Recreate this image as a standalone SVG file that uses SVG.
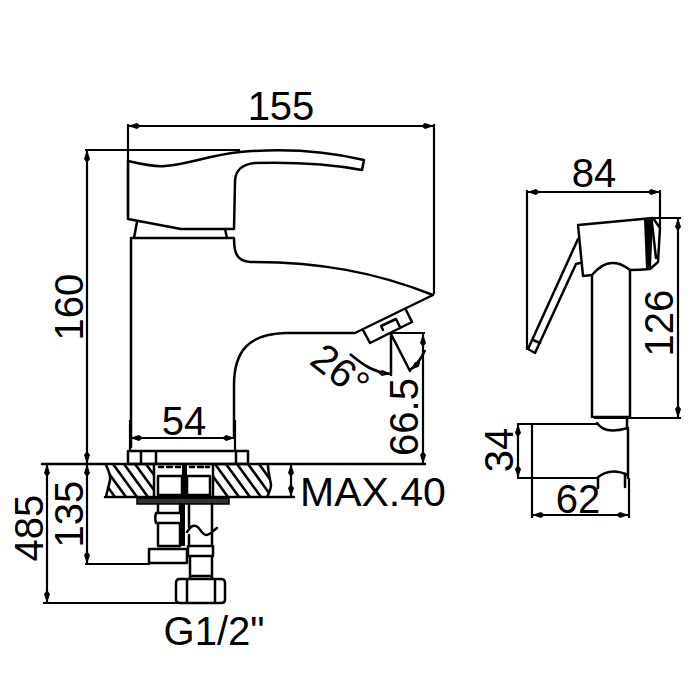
<svg xmlns="http://www.w3.org/2000/svg" width="700" height="700" viewBox="0 0 700 700">
<style>
.l{fill:none;stroke:#000;stroke-width:2.5;stroke-linejoin:round;stroke-linecap:round}
.d{fill:none;stroke:#000;stroke-width:2.200;marker-start:url(#a);marker-end:url(#a)}
.e{fill:none;stroke:#000;stroke-width:2.200}
.h{fill:none;stroke:#000;stroke-width:2.600}
text{font-family:"Liberation Sans",Arial,sans-serif;font-size:40px;fill:#000}
</style>
<defs>
<marker id="a" markerUnits="userSpaceOnUse" markerWidth="14" markerHeight="7" refX="13" refY="3.500" orient="auto-start-reverse"><path d="M0 3.500L4 .5L13 3.500L4 6.500Z" fill="#000"/></marker>
<clipPath id="s"><path d="M106 465C109 472 111 476 110 480C109 486 107 491 106 497H154V465ZM213 465V497H267C270 491 271 488 271 485C270 478 268 472 268 465Z"/></clipPath>
</defs>
<rect width="700" height="700" fill="#fff"/>
<g id="faucet">
<path class="l" d="M128 161C145 165 155 167 165 166C190 164 210 155 240 152C285 148 330 152 364 160L362 170C330 164 295 162 255 163C242 164 235 171 235 182L234 229H181L128 219V161Z"/>
<path class="l" d="M137 222L134 238M225 229L227 238M131 447V238H234C234 255 238 261 250 262C320 262 375 272 433 295L355 333H285C250 334 234 350 234 385V438"/>
<path class="l" d="M363 330L370 343L412 322L406 310M383 330L381 326L396 319L400 327"/>
<path class="l" d="M128 451H248V464H128ZM141 451V464M156 451V464M236 451V464"/>
</g>
<g id="mount">
<path class="l" d="M42 464H425M105 497H294M106 465C109 472 111 476 110 480C109 486 107 491 106 497M268 465C268 472 270 478 271 485C271 488 270 491 267 497M154 465V497M213 465V497"/>
<g clip-path="url(#s)"><path class="h" d="M80 464L104 497M91 464L115 497M102 464L126 497M113 464L137 497M124 464L148 497M135 464L159 497M146 464L170 497M204 464L228 497M215 464L239 497M226 464L250 497M237 464L261 497M248 464L272 497M259 464L283 497"/></g>
<path class="l" d="M158 476H182V495H158ZM187 476H210V495H187ZM159 467H163M167 467H172M176 467H180M190 467H194M198 467H203M206 467H209"/>
<path d="M182 465H187V498H182ZM180 504H185V546H180Z" fill="#000"/>
<path d="M137 498H229V504H137Z" fill="#333" stroke="#000" stroke-width="1.500"/>
<path class="l" d="M158 504V513M180 504V513M156 513C155 517 155 520 156 523H182M156 513H180M158 523V546M180 523V546M149 549H187V563H149ZM158 546H180"/>
<path class="l" d="M212 504V531M189 504V527M187 532C191 526 193 525 196 526C200 527 201 534 206 535C210 535 213 531 217 528M189 535V545M212 533V545M188 546H213V556H188ZM190 556V578M212 556V578M190 576H212M176 583Q176 579 180 579H221Q225 579 225 583V600Q225 603 221 603H180Q176 603 176 600ZM187 579V603M215 579V603"/>
</g>
<g id="sprayer">
<path class="l" d="M578 225L653 218L660 228L658 262L650 269Q640 270 630 270C622 264 618 263 612 263C604 263 598 268 592 275L583 276Z"/>
<path d="M644 220L653 219L651 268L646 269Z" fill="#000"/>
<path class="l" d="M652 223L656 258M578 239L528 349L535 353L576 264L580 263M533 340L540 343M592 275V417M630 270V417M594 417H630"/>
<path class="l" d="M597 423C602 430 610 433 628 428V478M627 418V428M597 478C605 471 615 469 628 475M598 478V488M625 475V487"/>
</g>
<g id="connectors">
<path class="e" d="M128 124V220M434 124V294M85 150H240M85 564H150M43 603H177M527 190V350M660 190V228M650 218H681M594 418H681M517 424H597M517 478H598M532 424V518M629 478V518M130 420V450M235 420V450M391 333H425"/>
<path class="d" d="M128 126H434"/>
<path class="d" d="M87 150V464"/>
<path class="d" d="M87 464V564"/>
<path class="d" d="M47 464V603"/>
<path class="d" d="M130 438H235"/>
<path class="d" d="M291 464V497"/>
<path class="d" d="M423 334V464"/>
<path class="d" d="M527 192H660"/>
<path class="d" d="M678 218V418"/>
<path class="d" d="M518 424V478"/>
<path class="d" d="M532 515H629"/>
<path class="l" d="M391 334V375M391 334L410 371"/>
<path class="h" style="marker-end:url(#a)" d="M350 354C362 364 372 372 391 374"/>
<path class="h" style="marker-end:url(#a)" d="M425 350C421 360 415 366 410 370"/>
</g>
<g id="labels">
<text x="281" y="120" text-anchor="middle">155</text>
<text x="594" y="187" text-anchor="middle">84</text>
<text x="184" y="435" text-anchor="middle">54</text>
<text x="300" y="506" style="font-size:41px">MAX.40</text>
<text x="214" y="645" text-anchor="middle">G1/2"</text>
<text x="578" y="513" text-anchor="middle">62</text>
<text transform="translate(83 307) rotate(-90)" text-anchor="middle">160</text>
<text transform="translate(83 514) rotate(-90)" text-anchor="middle">135</text>
<text transform="translate(43 528) rotate(-90)" text-anchor="middle">485</text>
<text transform="translate(418 417) rotate(-90)" text-anchor="middle">66.5</text>
<text transform="translate(673 323) rotate(-90)" text-anchor="middle">126</text>
<text transform="translate(513 450) rotate(-90)" text-anchor="middle">34</text>
<text transform="translate(308 363) rotate(38)">26°</text>
</g>
</svg>
